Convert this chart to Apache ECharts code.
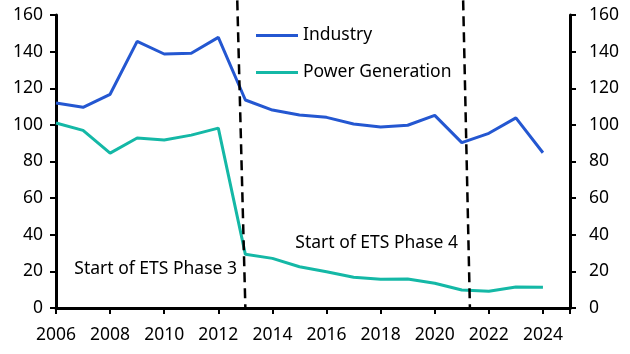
<!DOCTYPE html>
<html>
<head>
<meta charset="utf-8">
<script src="https://cdn.jsdelivr.net/npm/echarts@6/dist/echarts.min.js"></script>
<style>
html, body { margin: 0; padding: 0; background: #fff; }
#chart { width: 630px; height: 354px; }
</style>
</head>
<body>
<div id="chart"></div>
<script>
// 数据
const years = [2006, 2007, 2008, 2009, 2010, 2011, 2012, 2013, 2014, 2015, 2016, 2017, 2018, 2019, 2020, 2021, 2022, 2023, 2024]
const industry = [112, 109.6, 116.7, 145.6, 138.7, 139.1, 147.8, 113.6, 108.1, 105.4, 104.1, 100.5, 98.9, 99.8, 105.2, 90.3, 95.4, 103.8, 84.8]
const power = [101, 97, 84.6, 92.8, 91.7, 94.4, 98.2, 29.3, 27.1, 22.5, 19.8, 16.8, 15.7, 15.8, 13.5, 9.8, 9.1, 11.5, 11.3]
// 竖虚线（略微倾斜）
const phase3Line = [[2012.7, 168], [2013.0, 0]]
const phase4Line = [[2021.05, 168], [2021.3, 0]]
const phase3Label = [2012.69, 21.3]
const phase4Label = [2020.86, 35.6]

const font = 'Noto Sans'
const fs = 17.5
const chartinit = echarts.init(document.getElementById('chart'))

const option = {
  animation: false,
  grid: { left: 56, right: 60, top: 15, bottom: 46, containLabel: false },
  legend: {
    data: ['Industry', 'Power Generation'],
    orient: 'vertical',
    left: 256,
    top: 25,
    padding: 0,
    icon: 'rect',
    itemWidth: 42,
    itemHeight: 3,
    itemGap: 16,
    textStyle: { fontFamily: font, fontSize: fs, color: '#000', lineHeight: 21 }
  },
  xAxis: {
    type: 'value',
    min: 2006,
    max: 2025,
    interval: 2,
    splitLine: { show: false },
    axisLine: { lineStyle: { color: '#000', width: 3 } },
    axisTick: { show: true, length: 6, lineStyle: { color: '#000', width: 2 } },
    axisLabel: {
      fontFamily: font, fontSize: fs, color: '#000', margin: 18,
      formatter: v => (v <= 2024 ? String(v) : '')
    }
  },
  yAxis: [
    {
      type: 'value', min: 0, max: 160, interval: 20, position: 'left',
      splitLine: { show: false },
      axisLine: { show: true, lineStyle: { color: '#000', width: 3 } },
      axisTick: { show: true, length: 6, lineStyle: { color: '#000', width: 2 } },
      axisLabel: { fontFamily: font, fontSize: fs, color: '#000', margin: 13 }
    },
    {
      type: 'value', min: 0, max: 160, interval: 20, position: 'right',
      splitLine: { show: false },
      axisLine: { show: true, lineStyle: { color: '#000', width: 3 } },
      axisTick: { show: true, length: 6, lineStyle: { color: '#000', width: 2 } },
      axisLabel: { fontFamily: font, fontSize: fs, color: '#000', margin: 19 }
    }
  ],
  series: [
    {
      name: 'Industry',
      type: 'line',
      data: years.map((y, i) => [y, industry[i]]),
      symbol: 'none',
      color: '#2457d1',
      lineStyle: { color: '#2457d1', width: 3 },
      z: 3
    },
    {
      name: 'Power Generation',
      type: 'line',
      data: years.map((y, i) => [y, power[i]]),
      symbol: 'none',
      color: '#14b8a6',
      lineStyle: { color: '#14b8a6', width: 3 },
      z: 3,
      markPoint: {
        symbol: 'rect',
        symbolSize: 0,
        label: {
          show: true, position: 'left', distance: 0,
          fontFamily: font, fontSize: fs, color: '#000'
        },
        data: [
          { coord: phase3Label, label: { formatter: 'Start of ETS Phase 3' } },
          { coord: phase4Label, label: { formatter: 'Start of ETS Phase 4' } }
        ]
      }
    },
    {
      name: 'phase3',
      type: 'line',
      data: phase3Line,
      symbol: 'none',
      clip: false,
      silent: true,
      lineStyle: { color: '#000', width: 2.5, type: [10, 6] },
      z: 4
    },
    {
      name: 'phase4',
      type: 'line',
      data: phase4Line,
      symbol: 'none',
      clip: false,
      silent: true,
      lineStyle: { color: '#000', width: 2.5, type: [10, 6] },
      z: 4
    }
  ]
}
chartinit.setOption(option)
</script>
</body>
</html>
